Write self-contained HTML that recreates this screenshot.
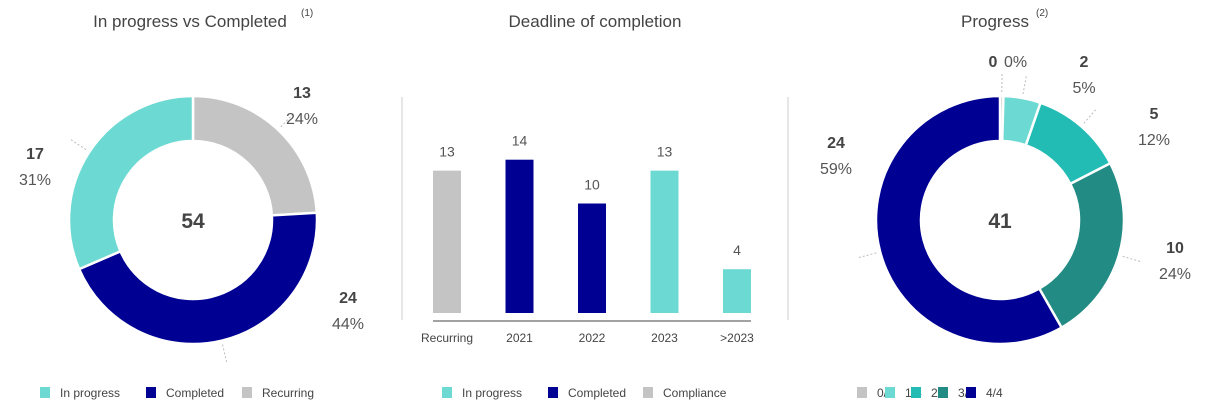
<!DOCTYPE html>
<html><head><meta charset="utf-8"><style>
body{margin:0;background:#fff;width:1208px;height:408px;overflow:hidden;font-family:"Liberation Sans",sans-serif;}
svg text{font-family:"Liberation Sans",sans-serif;}
</style></head><body>
<svg id="c" width="1208" height="408">
<text x="190" y="27" text-anchor="middle" font-size="17" fill="#444">In progress vs Completed</text>
<text x="301" y="16" font-size="10" fill="#444">(1)</text>
<text x="595" y="27" text-anchor="middle" font-size="17" fill="#444">Deadline of completion</text>
<text x="995" y="27" text-anchor="middle" font-size="17" fill="#444">Progress</text>
<text x="1036" y="16" font-size="10" fill="#444">(2)</text>
<line x1="402" y1="97" x2="402" y2="320" stroke="#ccc"/>
<line x1="788" y1="97" x2="788" y2="320" stroke="#ccc"/>
<g id="d1"></g>
<g id="bars"></g>
<g id="d2"></g>
<g id="legends"></g>
</svg>
<script>
const NS='http://www.w3.org/2000/svg';
// Donut 1 data
const d1Cats=['Recurring','Completed','In progress'];
const d1Vals=[13,24,17];
const d1Cols=['#c4c4c4','#000093','#6dd9d3'];
const d1LabelPos=[[302,98],[348,303],[35,159]];
// Bar data
const barCats=['Recurring','2021','2022','2023','>2023'];
const barVals=[13,14,10,13,4];
const barCols=['#c4c4c4','#000093','#000093','#6dd9d3','#6dd9d3'];
// Donut 2 data
const d2Cats=['0/4','1/4','2/4','3/4','4/4'];
const d2Vals=[0,2,5,10,24];
const d2Cols=['#c4c4c4','#6dd9d3','#22bcb5','#228b83','#000093'];
const d2LabelPos=[[993,67],[1084,67],[1154,119],[1175,253],[836,148]];

function el(tag,attrs,parent,name){const e=document.createElementNS(NS,tag);for(const k in attrs)e.setAttribute(k,attrs[k]);


parent.appendChild(e);return e;}
function arc(cx,cy,ro,ri,a0,a1){const p=(r,a)=>[cx+r*Math.sin(a),cy-r*Math.cos(a)];const lg=(a1-a0)>Math.PI?1:0;
const [x0,y0]=p(ro,a0),[x1,y1]=p(ro,a1),[x2,y2]=p(ri,a1),[x3,y3]=p(ri,a0);
return `M${x0} ${y0}A${ro} ${ro} 0 ${lg} 1 ${x1} ${y1}L${x2} ${y2}A${ri} ${ri} 0 ${lg} 0 ${x3} ${y3}Z`;}
function donut(g,cx,cy,vals,cols,cats,lp,minDeg){
  const tot=vals.reduce((a,b)=>a+b,0);
  const minA=minDeg*Math.PI/180;
  const small=vals.filter(v=>v===0).length*minA;
  let a=0;
  vals.forEach((v,i)=>{
    const span=v===0?minA:(v/tot)*(2*Math.PI-small);
    el('path',{d:arc(cx,cy,124,79,a,a+span),fill:cols[i],stroke:'#fff','stroke-width':2.5},g,'slice-'+cats[i].replace(/\W/g,'-'));
    const m=a+span/2;
    const sx=cx+128*Math.sin(m),sy=cy-128*Math.cos(m),ex=cx+146*Math.sin(m),ey=cy-146*Math.cos(m);
    el('line',{x1:sx,y1:sy,x2:ex,y2:ey,stroke:'#bbb','stroke-dasharray':'2,2'},g,'leader-line');
    const [lx,ly]=lp[i];
    const pct=Math.round(v/tot*100)+'%';
    if(v===0){
      const t=el('text',{x:lx,y:ly,'font-size':16,'font-weight':'bold',fill:'#444','text-anchor':'middle'},g,'slice-value');t.textContent=v;
      const t2=el('text',{x:lx+11,y:ly,'font-size':16,fill:'#555'},g,'slice-percent');t2.textContent=pct;
    }else{
      const t=el('text',{x:lx,y:ly,'font-size':16,'font-weight':'bold',fill:'#444','text-anchor':'middle'},g,'slice-value');t.textContent=v;
      const t2=el('text',{x:lx,y:ly+26,'font-size':16,fill:'#555','text-anchor':'middle'},g,'slice-percent');t2.textContent=pct;
    }
    a+=span;
  });
  const c=el('text',{x:cx,y:cy+8,'font-size':21,'font-weight':'bold',fill:'#444','text-anchor':'middle'},g,'donut-total');c.textContent=tot;
}
donut(document.getElementById('d1'),193,220,d1Vals,d1Cols,d1Cats,d1LabelPos,0);
donut(document.getElementById('d2'),1000,220,d2Vals,d2Cols,d2Cats,d2LabelPos,1.6);

// bars
const bg=document.getElementById('bars');
const base=313,unit=10.95,x0=447,step=72.5,bw=28;
const yS=v=>base-v*unit, xS=i=>x0+i*step;
barVals.forEach((v,i)=>{
  el('rect',{x:xS(i)-bw/2,y:yS(v),width:bw,height:v*unit,fill:barCols[i]},bg,'bar-'+barCats[i].replace(/\W/g,''));
  const t=el('text',{x:xS(i),y:yS(v)-14,'font-size':14,fill:'#555','text-anchor':'middle'},bg,'bar-value');t.textContent=v;
  const l=el('text',{x:xS(i),y:342,'font-size':12,fill:'#444','text-anchor':'middle'},bg,'x-tick-label');l.textContent=barCats[i];
});
el('line',{x1:433,y1:321,x2:751,y2:321,stroke:'#444'},bg,'x-axis-line');

// legends
const lg=document.getElementById('legends');
function legend(x,items,cols,gaps){
  let cx=x;
  items.forEach((n,i)=>{
    el('rect',{x:cx,y:387,width:10,height:11,fill:cols[i]},lg,'legend-swatch');
    const t=el('text',{x:cx+20,y:397,'font-size':12,fill:'#444'},lg,'legend-entry');t.textContent=n;
    cx+=gaps[i];
  });
}
legend(40,['In progress','Completed','Recurring'],['#6dd9d3','#000093','#c4c4c4'],[106,96,0]);
legend(442,['In progress','Completed','Compliance'],['#6dd9d3','#000093','#c4c4c4'],[106,95,0]);
legend(857,['0/4','1/4','2/4','3/4','4/4'],['#c4c4c4','#6dd9d3','#22bcb5','#228b83','#000093'],[28,26,27,28,0].map(g=>g+0));
</script>
<script>
// fix progress legend spacing (measured)
(function(){const sw=document.querySelectorAll('#legends rect');const tx=document.querySelectorAll('#legends text');
const xs=[857,885,912,940,967];for(let i=6;i<11;i++){}})();
</script>
</body></html>
